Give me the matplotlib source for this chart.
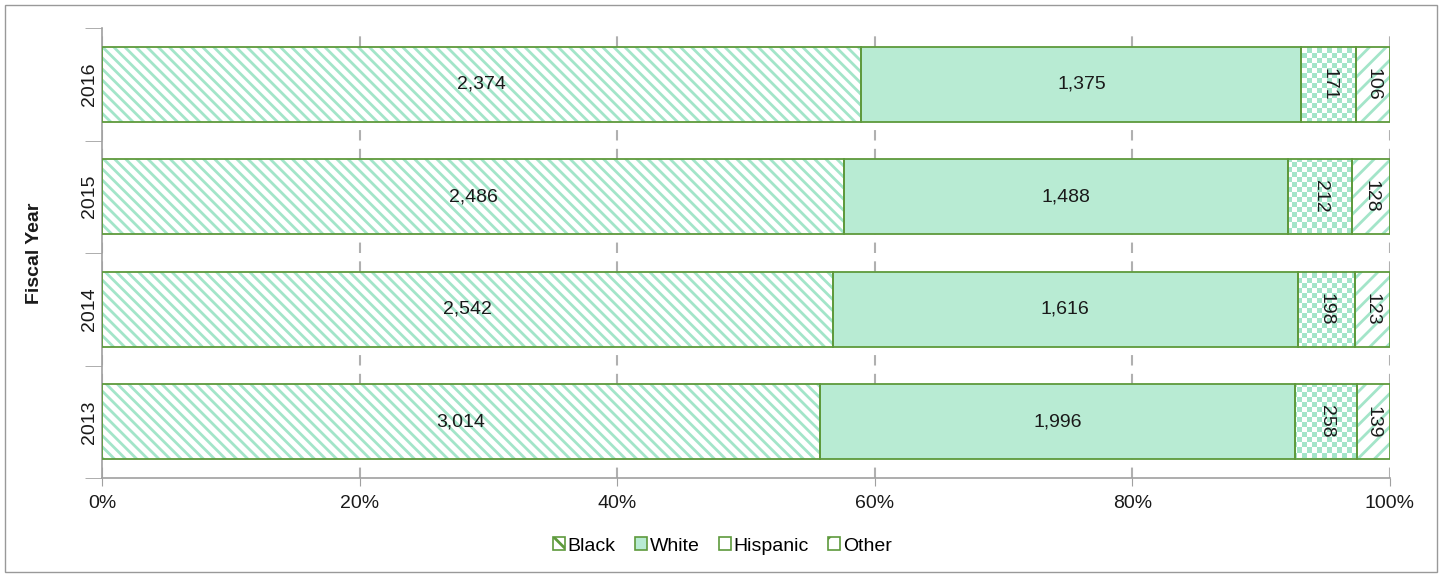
import matplotlib
matplotlib.use("Agg")
import matplotlib.pyplot as plt
from matplotlib.patches import Rectangle, Patch
from matplotlib.colors import to_rgb
import numpy as np

plt.rcParams['font.family'] = ['Liberation Sans', 'DejaVu Sans']

years = ["2013", "2014", "2015", "2016"]
series = ["Black", "White", "Hispanic", "Other"]
black = [3014, 2542, 2486, 2374]
white = [1996, 1616, 1488, 1375]
hispanic = [258, 198, 212, 171]
other = [139, 123, 128, 106]

values = np.array([black, white, hispanic, other], dtype=float)
totals = values.sum(axis=0)
shares = values / totals

edge = "#5E9A3C"
hatch_col = "#A3E5C9"
fills = ["white", "#B8EBD3", "white", "white"]
hatches = ["\\\\\\", None, "++", "//"]
legend_hatches = ["\\\\", None, None, "/"]

fig = plt.figure(figsize=(14.45, 5.78), dpi=100)
ax_w_px, ax_h_px = 1390 - 102, 478 - 28
ax = fig.add_axes([102/1445, 1-478/578, ax_w_px/1445, ax_h_px/578])

plt.rcParams['hatch.linewidth'] = 2.0
y = np.arange(len(years))
h = 0.67

# checkerboard texture image (for Hispanic)
cell = 5
nx, ny = ax_w_px // cell + 1, ax_h_px // cell + 1
ii, jj = np.meshgrid(np.arange(nx), np.arange(ny))
mask = ((ii + jj) % 2 == 0)
img = np.ones((ny, nx, 3))
img[mask] = to_rgb(hatch_col)

left = np.zeros(len(years))
for i, s in enumerate(series):
    w = shares[i]
    if s == "Hispanic":
        bars = ax.barh(y, w, left=left, height=h, color="white", linewidth=0, zorder=2)
        for b in bars:
            im = ax.imshow(img, extent=(0, nx * cell / ax_w_px, -0.5, -0.5 + ny * cell / ax_h_px * 4),
                           aspect="auto", interpolation="nearest", zorder=2.5, origin="lower")
            im.set_clip_path(b)
    elif hatches[i]:
        ax.barh(y, w, left=left, height=h, color=fills[i], edgecolor=hatch_col,
                hatch=hatches[i], linewidth=0, zorder=2)
    else:
        ax.barh(y, w, left=left, height=h, color=fills[i], linewidth=0, zorder=2)
    ax.barh(y, w, left=left, height=h, fill=False, edgecolor=edge, linewidth=1.3, zorder=3)
    for j in range(len(years)):
        cx = left[j] + w[j] / 2
        rot = 0 if i < 2 else 270
        ax.text(cx, y[j], f"{int(values[i, j]):,}", ha="center", va="center",
                rotation=rot, fontsize=14, color="#1A1A1A", zorder=4)
    left = left + w

ax.set_xlim(0, 1)
ax.set_ylim(-0.5, 3.5)
ax.set_xticks(np.linspace(0, 1, 6))
ax.set_xticklabels([f"{int(round(v*100))}%" for v in np.linspace(0, 1, 6)], fontsize=14, color="#1A1A1A")
ax.set_yticks(y)
ax.set_yticklabels(years, rotation=90, va="center", fontsize=14, color="#1A1A1A")
ax.set_yticks([-0.5, 0.5, 1.5, 2.5, 3.5], minor=True)
ax.tick_params(axis="y", which="major", length=0, pad=3)
ax.tick_params(axis="y", which="minor", length=12, color="#A0A0A0")
ax.tick_params(axis="x", length=6, color="#A0A0A0", pad=6)
ax.xaxis.grid(True, linestyle=(0, (5, 4)), color="#B0B0B0", linewidth=1.5, zorder=0)
ax.set_axisbelow(True)
for sp in ["top", "right"]:
    ax.spines[sp].set_visible(False)
for sp in ["left", "bottom"]:
    ax.spines[sp].set_color("#A0A0A0")
    ax.spines[sp].set_linewidth(1.2)
ax.set_ylabel("Fiscal Year", fontsize=14, fontweight="bold", labelpad=27, color="#1A1A1A")

handles = []
for i, s in enumerate(series):
    handles.append(Patch(facecolor=fills[i], edgecolor=edge, hatch=legend_hatches[i], linewidth=1.2, label=s))
fig.legend(handles=handles, loc="center", bbox_to_anchor=(0.5, 1-546/578), ncol=4,
           frameon=False, fontsize=14, handlelength=0.6, handleheight=0.6,
           handletextpad=0.15, columnspacing=1.0)

fig.patches.append(Rectangle((5/1445, 1-572/578), 1432/1445, 567/578, transform=fig.transFigure,
                             fill=False, edgecolor="#999999", linewidth=1))

fig.savefig("out.png", dpi=100)
